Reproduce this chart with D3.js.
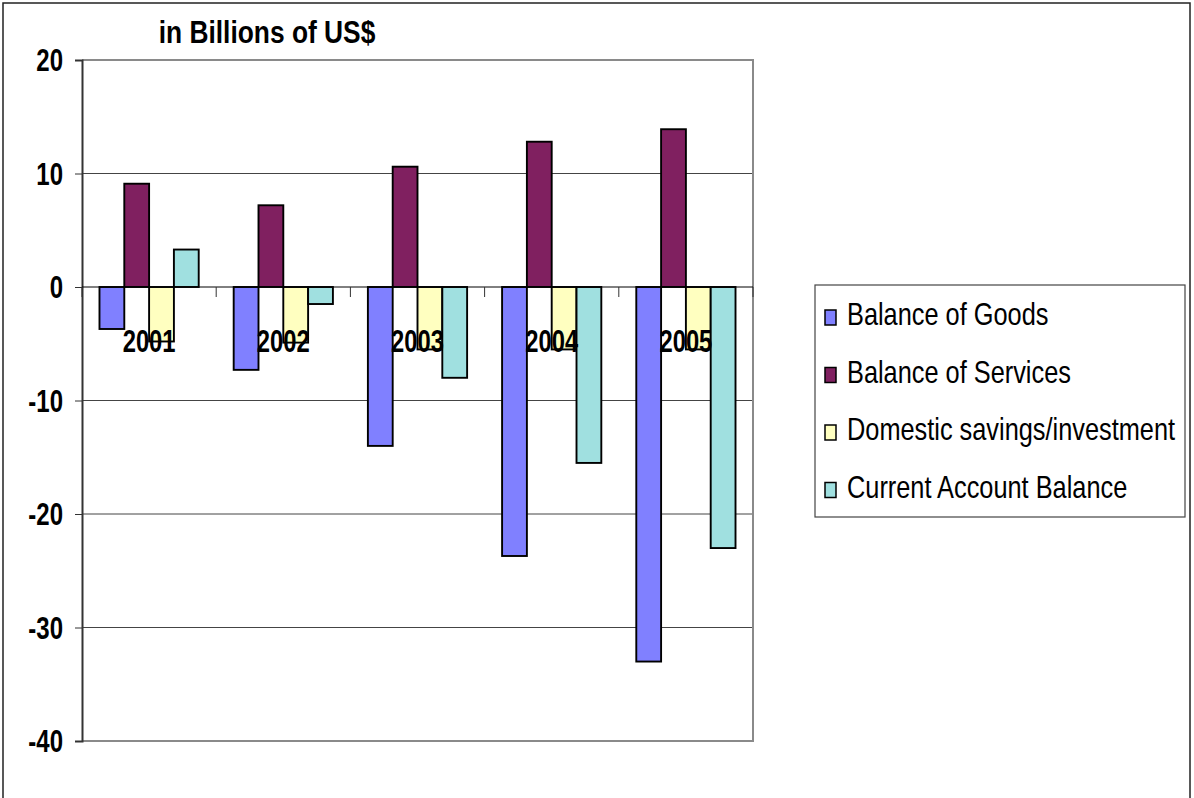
<!DOCTYPE html>
<html><head><meta charset="utf-8">
<script src="https://cdn.jsdelivr.net/npm/d3@7"></script>
<style>body{margin:0;background:#fff}svg{display:block}</style>
</head><body>
<svg id="c" width="1194" height="798"></svg>
<script>
const categories = ["2001","2002","2003","2004","2005"];
const seriesNames = ["Balance of Goods","Balance of Services","Domestic savings/investment","Current Account Balance"];
const goods    = [-3.7, -7.3, -14.0, -23.7, -33.0];
const services = [9.1, 7.2, 10.6, 12.8, 13.9];
const domestic = [-4.8, -4.9, -5.5, -5.5, -5.5];
const current  = [3.3, -1.5, -8.0, -15.5, -23.0];
const yTicks = [20, 10, 0, -10, -20, -30, -40];
const titleText = "in Billions of US$";
const colors = ["#8080FF", "#802060", "#FFFFC0", "#A0E0E0"];

const seriesValues = [goods, services, domestic, current];
const svg = d3.select("#c");
const font = "'Liberation Sans Narrow','Arial Narrow','Liberation Sans',Arial,sans-serif";
const SX = 0.82;
const L = 82, R = 753, T = 60, B = 741;

// narrow text helper: draws text horizontally condensed around its anchor
function ntext(parent, x, yPos, str, opts) {
  const g = parent.append("g").attr("transform", `translate(${x},${yPos}) scale(${opts.sx || SX},${opts.sy || 1})`);
  g.append("text").attr("x",0).attr("y",0)
    .attr("text-anchor", opts.anchor || "start")
    .attr("font-family", font).attr("font-weight", opts.bold ? "bold" : "normal")
    .attr("font-size", opts.size).attr("fill","#000").text(str);
  return g;
}

// outer frame
svg.append("rect").attr("x",3).attr("y",3).attr("width",1187).attr("height",800)
  .attr("fill","none").attr("stroke","#222").attr("stroke-width",1.5);

const y = d3.scaleLinear().domain([-40, 20]).range([B, T]);
const x0 = d3.scaleBand().domain(categories).range([L, R]).paddingInner(0).paddingOuter(0);
const x1 = d3.scaleBand().domain(d3.range(seriesNames.length)).range([0, x0.bandwidth()]).paddingInner(0).paddingOuter(0.705);

// gridlines
svg.append("g").selectAll("line").data(yTicks.filter(v => v !== 20 && v !== -40 && v !== 0)).join("line")
  .attr("x1", L).attr("x2", R).attr("y1", d => y(d)).attr("y2", d => y(d))
  .attr("stroke","#444").attr("stroke-width",1);

// plot border (top/right/bottom)
svg.append("path").attr("d", `M${L},${T}H${R}V${B}H${L}`).attr("fill","none")
  .attr("stroke","#8a8a8a").attr("stroke-width",2);

// y axis
const yAxis = d3.axisLeft(y).tickValues(yTicks).tickSize(7).tickFormat(() => "");
const gy = svg.append("g").attr("transform",`translate(${L},0)`).call(yAxis);
gy.select(".domain").attr("stroke","#333").attr("stroke-width",2);
gy.selectAll(".tick line").attr("stroke","#333");
const yl = svg.append("g");
yTicks.forEach(v => ntext(yl, 63, y(v) + 11, String(v), {anchor:"end", bold:true, size:30, sx:0.8, sy:1.06}));

// bars
const groups = svg.append("g").selectAll("g").data(categories).join("g")
  .attr("transform", d => `translate(${x0(d)},0)`);
groups.selectAll("rect").data((c, ci) => seriesValues.map((vals, si) => ({si, v: vals[ci]}))).join("rect")
  .attr("x", d => x1(d.si)).attr("width", x1.bandwidth())
  .attr("y", d => y(Math.max(0, d.v))).attr("height", d => Math.abs(y(d.v) - y(0)))
  .attr("fill", d => colors[d.si]).attr("stroke","#000").attr("stroke-width",1.9);

// zero line with category ticks
svg.append("line").attr("x1", L).attr("x2", R).attr("y1", y(0)).attr("y2", y(0))
  .attr("stroke","#000").attr("stroke-width",1);
svg.append("g").selectAll("line").data(categories.concat(["end"])).join("line")
  .attr("x1", (d,i) => i < categories.length ? x0(d) : R)
  .attr("x2", (d,i) => i < categories.length ? x0(d) : R)
  .attr("y1", y(0)).attr("y2", y(0) + 10).attr("stroke","#333").attr("stroke-width",1);

// category labels
const cl = svg.append("g");
categories.forEach(c => ntext(cl, x0(c) + x0.bandwidth()/2, y(0) + 65, c, {anchor:"middle", bold:true, size:29, sy:1.05}));

// title
ntext(svg, 267, 43, titleText, {anchor:"middle", bold:true, size:31, sx:0.85, sy:1.02});

// legend
const lg = svg.append("g");
lg.append("rect").attr("x",815).attr("y",285).attr("width",370).attr("height",232)
  .attr("fill","#fff").attr("stroke","#444").attr("stroke-width",1.2);
seriesNames.forEach((name, i) => {
  const by = 325 + i * 57.5;
  lg.append("rect").attr("x",825).attr("y",by - 15).attr("width",11).attr("height",15)
    .attr("fill",colors[i]).attr("stroke","#000").attr("stroke-width",1.5);
  ntext(lg, 847, by, name, {size:30, sx:0.845, sy:1.02});
});
</script>
</body></html>
